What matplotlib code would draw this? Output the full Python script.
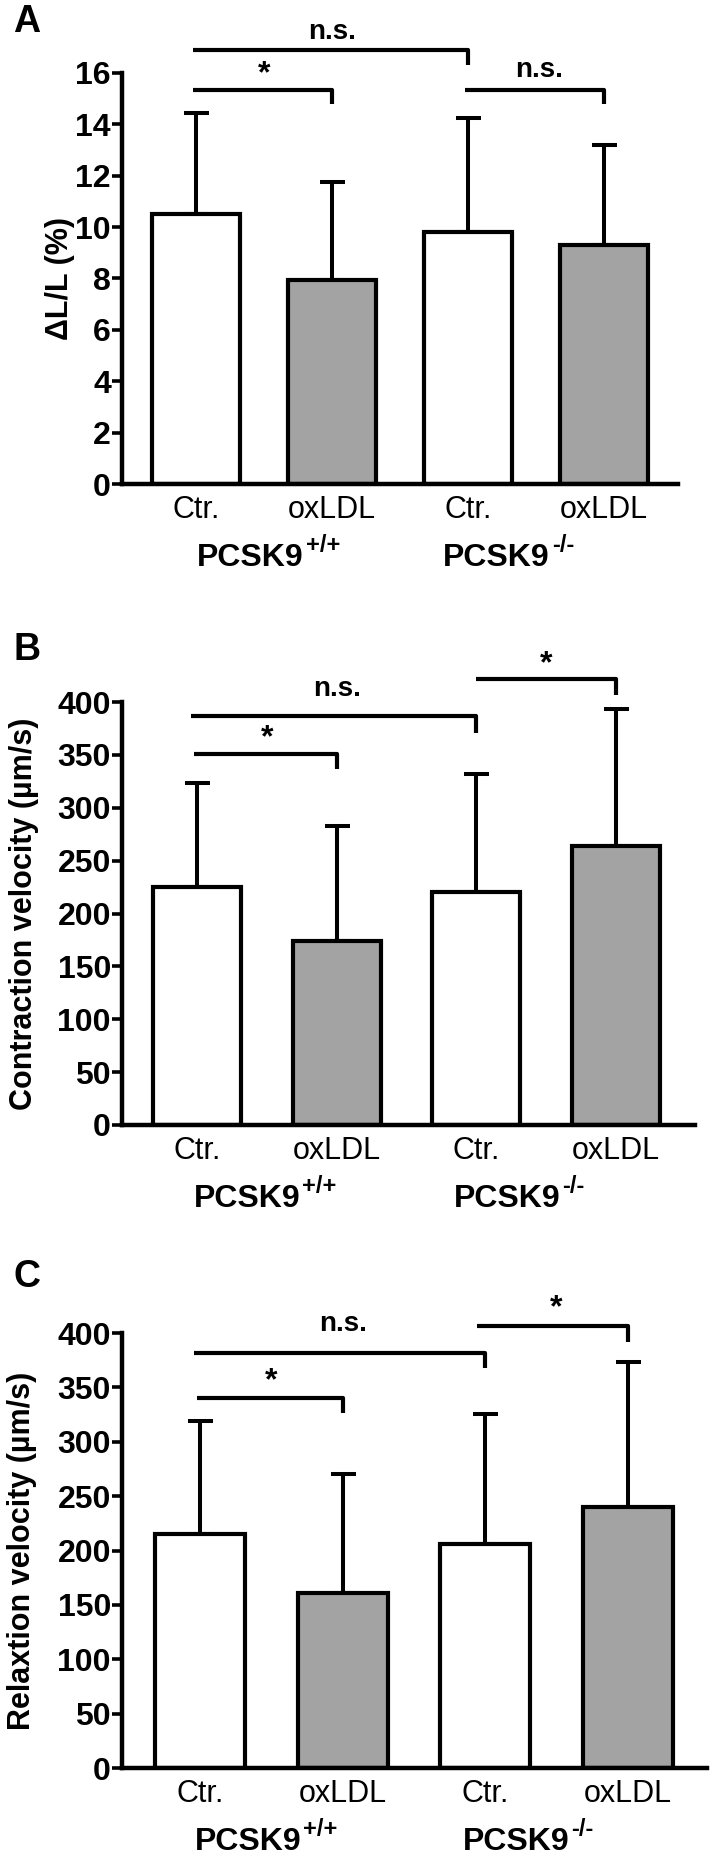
import numpy as np
import matplotlib
matplotlib.use("Agg")
import matplotlib.pyplot as plt

plt.rcParams['font.family'] = ['Liberation Sans', 'DejaVu Sans']

# data
categories = ["Ctr.", "oxLDL", "Ctr.", "oxLDL"]
groups = ["PCSK9", "PCSK9"]
group_sup = ["+/+", "-/-"]
bar_colors = ["white", "#a3a3a3", "white", "#a3a3a3"]

dL_mean = [10.5, 7.95, 9.8, 9.3]
dL_err = [3.95, 3.8, 4.45, 3.9]          # upper SD

contr_mean = [225, 174, 220, 264]
contr_err = [98, 109, 112, 129]

relax_mean = [215, 161, 206, 240]
relax_err = [104, 109, 120, 133]

# significance brackets: (x_start, x_end, y_line, y_drop, label, text_x, text_y)
dL_sig = [(-0.02, 2.0, 16.88, 16.3, "n.s.", 1.0, 17.6),
          (-0.02, 1.0, 15.34, 14.8, "*", 0.5, 15.95),
          (1.98, 3.0, 15.34, 14.8, "n.s.", 2.52, 16.1)]
contr_sig = [(-0.04, 2.0, 386.5, 370.7, "n.s.", 1.0, 412),
             (-0.02, 1.0, 351, 337, "*", 0.5, 366),
             (2.0, 3.0, 421.4, 406.4, "*", 2.5, 436)]
relax_sig = [(-0.04, 2.0, 381.9, 367.9, "n.s.", 1.0, 408),
             (-0.02, 1.0, 340.2, 326.2, "*", 0.5, 356),
             (1.94, 3.0, 406.6, 391.9, "*", 2.5, 423)]

W, H = 711, 1866
fig = plt.figure(figsize=(W / 100, H / 100), dpi=100)


def px_rect(left, right, zero_px, top_px):
    return [left / W, (H - zero_px) / H, (right - left) / W, (zero_px - top_px) / H]


def draw_panel(ax, means, errs, ymax, ytop, ystep, xlim, width, ylabel, sig, label_x, group_end):
    x = np.arange(len(means))
    ax.bar(x, means, width=width, color=bar_colors, edgecolor="black", linewidth=3.0, zorder=2)
    ax.errorbar(x, means, yerr=[np.zeros(len(errs)), errs], fmt="none", ecolor="black",
                elinewidth=2.9, capsize=9, capthick=2.9, zorder=1)
    ax.set_xlim(*xlim)
    ax.set_ylim(0, ytop)
    ax.spines["top"].set_visible(False)
    ax.spines["right"].set_visible(False)
    ax.spines["left"].set_linewidth(3.2)
    ax.spines["bottom"].set_linewidth(3.2)
    ax.spines["left"].set_bounds(0, ymax)
    ax.set_yticks(np.arange(0, ymax + ystep / 2, ystep))
    ax.tick_params(axis="y", length=7, width=2.6, pad=1, labelsize=23)
    for t in ax.get_yticklabels():
        t.set_fontweight("bold")
    ax.set_xticks(x)
    ax.set_xticklabels(categories, fontsize=22)
    ax.tick_params(axis="x", length=0, pad=8)
    ax.set_ylabel(ylabel, fontsize=22, fontweight="bold")
    ax.yaxis.set_label_coords(label_x, ymax / 2 / ytop)

    # group names with superscript genotype
    for gx, g, s in zip(group_end, groups, group_sup):
        ax.annotate(g, xy=(gx, 0), xytext=(0, -53), textcoords="offset points",
                    ha="right", va="center", fontsize=23, fontweight="bold",
                    annotation_clip=False)
        ax.annotate(s, xy=(gx, 0), xytext=(1.5, -44), textcoords="offset points",
                    ha="left", va="center", fontsize=17, fontweight="bold",
                    annotation_clip=False)

    for x1, x2, yl, yd, lab, tx, ty in sig:
        ax.plot([x1, x2, x2], [yl, yl, yd], color="black", linewidth=3.0,
                solid_capstyle="butt", clip_on=False)
        ax.text(tx, ty, lab, ha="center", va="center", fontsize=23 if lab == "*" else 20,
                fontweight="bold")


axA = fig.add_axes(px_rect(122, 678, 484, 0))
draw_panel(axA, dL_mean, dL_err, 16, 484 / 25.69, 2, (-0.544, 3.544), 0.64,
           "\u0394L/L (%)", dL_sig, -0.085, [0.79, 2.6])

axB = fig.add_axes(px_rect(122, 695, 1125, 639))
draw_panel(axB, contr_mean, contr_err, 400, 459.6, 50, (-0.537, 3.566), 0.63,
           "Contraction velocity (\u00b5m/s)", contr_sig, -0.145, [0.74, 2.6])

axC = fig.add_axes(px_rect(122, 707, 1768, 1279))
draw_panel(axC, relax_mean, relax_err, 400, 449.7, 50, (-0.547, 3.554), 0.63,
           "Relaxtion velocity (\u00b5m/s)", relax_sig, -0.145, [0.71, 2.59])

# panel letters
for letter, ypx in [("A", 22), ("B", 650), ("C", 1277)]:
    fig.text(27 / W, 1 - ypx / H, letter, fontsize=27, fontweight="bold",
             ha="center", va="center")

fig.savefig("out.png", dpi=100)
